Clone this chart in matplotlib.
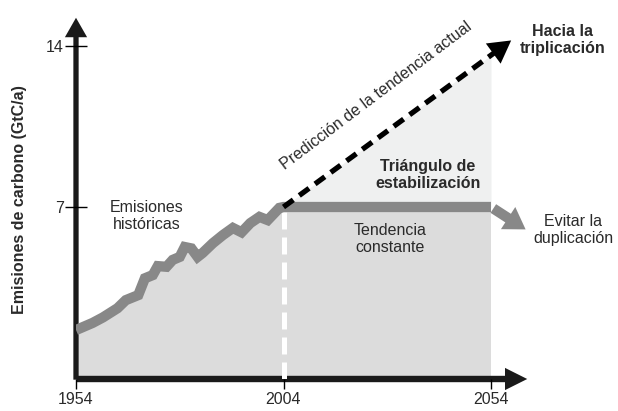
import matplotlib.pyplot as plt
from matplotlib.patches import FancyArrowPatch

plt.rcParams['font.family'] = ['Liberation Sans', 'DejaVu Sans']

# historical emissions (GtC/a)
hist_years = [1954, 1958, 1960.5, 1964, 1966, 1969, 1970.6, 1972.5, 1973.7,
              1975.8, 1977.3, 1979, 1980.2, 1981.8, 1983.3, 1984.5, 1987,
              1989.4, 1991.8, 1993.9, 1996, 1998.2, 2000.2, 2003, 2004]
hist_vals = [1.65, 1.96, 2.2, 2.6, 2.95, 3.17, 3.9, 4.04, 4.43,
             4.4, 4.7, 4.83, 5.26, 5.2, 4.83, 5.0, 5.43,
             5.78, 6.09, 5.9, 6.3, 6.57, 6.43, 6.96, 7.0]

flat_years = [2004, 2054]
flat_vals = [7.0, 7.0]

trend_years = [2004, 2054]
trend_vals = [7.0, 13.6]

xticks = [1954, 2004, 2054]
yticks = [7, 14]

grey = '#888888'
fill_dark = '#dcdcdc'
fill_light = '#eff0f0'
txt = '#2a2a2a'
fs = 11.5

fig = plt.figure(figsize=(6.18, 4.11), dpi=100)
ax = fig.add_axes([76 / 618, 32 / 411, 542 / 618, 379 / 411])
x0, x1 = 1954, 1954 + 542 / 4.15
y0, y1 = -11 / 23, 368 / 23
ax.set_xlim(x0, x1)
ax.set_ylim(y0, y1)
for s in ax.spines.values():
    s.set_visible(False)

# fills
ax.fill_between(hist_years, hist_vals, y0, color=fill_dark, lw=0)
ax.fill_between(flat_years, flat_vals, y0, color=fill_dark, lw=0)
ax.fill_between(trend_years, flat_vals, trend_vals, color=fill_light, lw=0)

# white dashed divider at 2004
ax.plot([2004, 2004], [y0, 7], color='white', lw=3.6, dashes=(3.4, 1.6))

# emissions line: history + constant
ax.plot(hist_years + flat_years[1:], hist_vals + flat_vals[1:], color=grey,
        lw=7.4, solid_joinstyle='miter', solid_capstyle='butt')
ax.add_patch(FancyArrowPatch((2054, 7.0), (2062.9, 5.96), mutation_scale=1,
             arrowstyle='simple,head_length=15,head_width=19,tail_width=7.4',
             color=grey, lw=0))

# dashed trend projection
slope = (trend_vals[1] - trend_vals[0]) / (trend_years[1] - trend_years[0])
tip_x = 2059.4
tip_y = trend_vals[0] + slope * (tip_x - trend_years[0])
ax.plot([2004, tip_x - 3.5], [7.0, trend_vals[0] + slope * (tip_x - 3.5 - 2004)],
        color='black', lw=3.8, dashes=(2.3, 1.4), solid_capstyle='butt')
ax.add_patch(FancyArrowPatch((tip_x - 4, tip_y - slope * 4), (tip_x, tip_y),
             mutation_scale=1,
             arrowstyle='simple,head_length=16,head_width=18,tail_width=3.8',
             color='black', lw=0))

# axis arrows
ax.add_patch(FancyArrowPatch((x0, y0 - 0.15), (x0, 353 / 23), mutation_scale=1,
             arrowstyle='simple,head_length=14,head_width=16,tail_width=3.8',
             color='#1a1a1a', lw=0, clip_on=False))
ax.add_patch(FancyArrowPatch((x0 - 0.5, y0), (1954 + 454 / 4.15, y0),
             mutation_scale=1,
             arrowstyle='simple,head_length=16,head_width=16,tail_width=4.6',
             color='#1a1a1a', lw=0, clip_on=False))

# ticks
ax.set_xticks(xticks)
ax.set_xticklabels([str(v) for v in xticks], fontsize=fs, color=txt)
ax.set_yticks(yticks)
ax.set_yticklabels([str(v) for v in yticks], fontsize=fs, color=txt)
ax.tick_params(axis='x', direction='out', length=7, width=1, pad=2)
ax.tick_params(axis='y', direction='inout', length=16, width=1, pad=1)

# annotations
ax.text(1971.1, 6.6, 'Emisiones\nhistóricas', ha='center', va='center',
        fontsize=fs, color=txt)
ax.text(2029.7, 5.6, 'Tendencia\nconstante', ha='center', va='center',
        fontsize=fs, color=txt)
ax.text(2038.8, 8.4, 'Triángulo de\nestabilización', ha='center', va='center',
        fontsize=fs, fontweight='bold', color=txt)
ax.text(2071.3, 14.26, 'Hacia la\ntriplicación', ha='center', va='center',
        fontsize=fs, fontweight='bold', color=txt)
ax.text(2073.8, 6.0, 'Evitar la\nduplicación', ha='center', va='center',
        fontsize=fs, color=txt)
ax.text(2026.3, 11.85, 'Predicción de la tendencia actual', ha='center',
        va='center', rotation=37, rotation_mode='anchor', fontsize=fs,
        color=txt)

fig.text(20 / 618, 1 - 200 / 411, 'Emisiones de carbono (GtC/a)', rotation=90,
         ha='center', va='center', fontsize=fs, fontweight='bold', color=txt)

fig.savefig('out.png', dpi=100)
